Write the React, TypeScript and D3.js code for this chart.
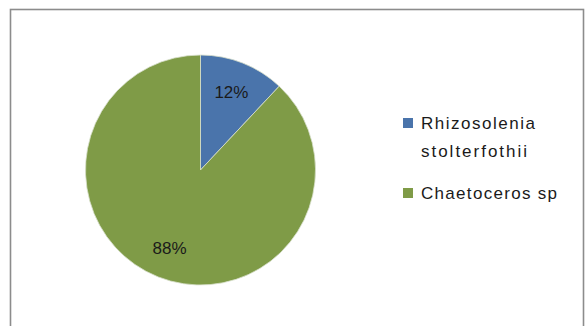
import React from "react";
import * as d3 from "d3";

const categories = ["Rhizosolenia stolterfothii", "Chaetoceros sp"];
const legendLines = [["Rhizosolenia", "stolterfothii"], ["Chaetoceros sp"]];
const values = [12, 88];
const labels = ["12%", "88%"];
const colors = ["#4a74ab", "#7f9b47"];

const W = 587;
const H = 326;
const cx = 200.5;
const cy = 170;
const R = 115;

export default function App() {
  const pie = d3.pie<number>().sort(null).value((d) => d);
  const arcs = pie(values);
  const arc = d3.arc<d3.PieArcDatum<number>>().innerRadius(0).outerRadius(R);
  const labelArc = d3.arc<d3.PieArcDatum<number>>().innerRadius(84).outerRadius(84);
  const font = "'Liberation Sans', Arial, sans-serif";
  const legendTextW = [[114, 106], [136]];
  const legendTop = [118, 188];
  return (
    <svg width={W} height={H} style={{ position: "absolute", left: 0, top: 0, background: "#fff" }}>
      <rect x={0} y={0} width={W} height={H} fill="#fff" />
      <rect x={10.5} y={9.5} width={573} height={330} fill="#fff" stroke="#8c8c8c" strokeWidth={1.6} />
      <g transform={`translate(${cx},${cy})`}>
        {arcs.map((a, i) => (
          <path key={categories[i]} d={arc(a) || ""} fill={colors[i]} stroke="#d8e0cc" strokeWidth={0.8} />
        ))}
        {arcs.map((a, i) => {
          const [x, y] = labelArc.centroid(a);
          return (
            <text key={labels[i]} x={x} y={y + 6} textAnchor="middle" fontFamily={font} fontSize={17} fill="#1a1a1a">
              {labels[i]}
            </text>
          );
        })}
      </g>
      {categories.map((c, i) => (
        <g key={c}>
          <rect x={403} y={legendTop[i]} width={10} height={10} fill={colors[i]} />
          {legendLines[i].map((line, j) => (
            <text
              key={line}
              x={421}
              y={legendTop[i] + 11 + j * 28}
              fontFamily={font}
              fontSize={17}
              fill="#1a1a1a"
              textLength={legendTextW[i][j]}
              lengthAdjust="spacing"
            >
              {line}
            </text>
          ))}
        </g>
      ))}
    </svg>
  );
}
